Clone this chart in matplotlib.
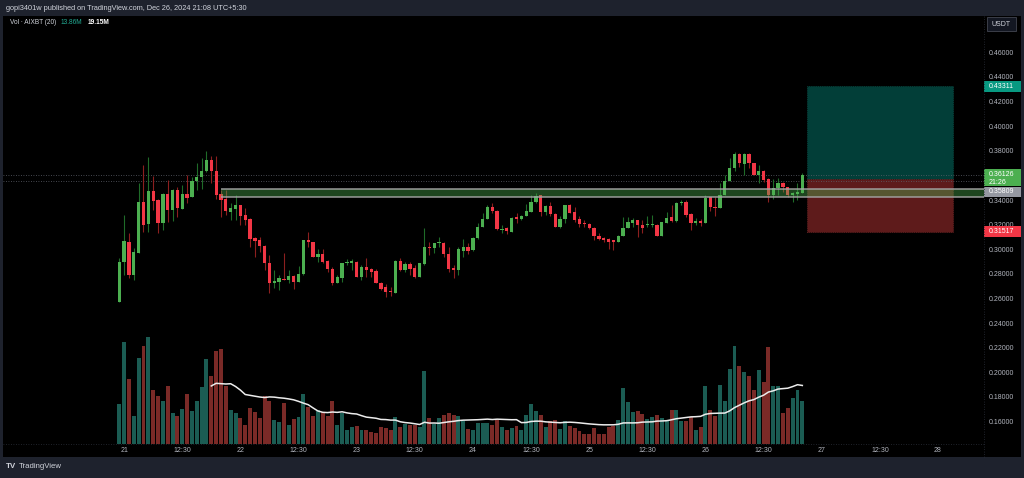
import numpy as np
import pandas as pd
import matplotlib
matplotlib.use('Agg')
import matplotlib.pyplot as plt
from matplotlib.patches import Rectangle
from matplotlib.lines import Line2D
from matplotlib.transforms import blended_transform_factory

plt.rcParams['font.family'] = ['Liberation Sans', 'DejaVu Sans']

# AIXBT / USDT, 1h candles
first_candle = '2024-12-20 23:00'
opens = [0.2583, 0.2908, 0.3070, 0.2799, 0.2981, 0.3395, 0.3214, 0.3482, 0.3409, 0.3219,
         0.3457, 0.3327, 0.3490, 0.3336, 0.3457, 0.3430, 0.3566, 0.3593, 0.3644, 0.3733,
         0.3647, 0.3455, 0.3414, 0.3314, 0.3336, 0.3368, 0.3287, 0.3254, 0.3097, 0.3084,
         0.3038, 0.2894, 0.2737, 0.2745, 0.2770, 0.2759, 0.2791, 0.2745, 0.2805, 0.3084,
         0.3065, 0.2948, 0.2970, 0.2913, 0.2851, 0.2737, 0.2778, 0.2894, 0.2900, 0.2908,
         0.2786, 0.2862, 0.2845, 0.2835, 0.2737, 0.2699, 0.2672, 0.2656, 0.2913, 0.2840,
         0.2889, 0.2853, 0.2786, 0.2889, 0.3029, 0.3016, 0.3062, 0.3062, 0.2970, 0.2859,
         0.2840, 0.2997, 0.3024, 0.3002, 0.3097, 0.3187, 0.3254, 0.3354, 0.3322, 0.3168,
         0.3178, 0.3151, 0.3268, 0.3254, 0.3279, 0.3314, 0.3392, 0.3449, 0.3308, 0.3360,
         0.3292, 0.3192, 0.3251, 0.3368, 0.3314, 0.3251, 0.3219, 0.3211, 0.3178, 0.3116,
         0.3103, 0.3092, 0.3084, 0.3070, 0.3116, 0.3184, 0.3225, 0.3246, 0.3206, 0.3209,
         0.3206, 0.3206, 0.3119, 0.3225, 0.3268, 0.3241, 0.3381, 0.3395, 0.3295, 0.3225,
         0.3238, 0.3219, 0.3430, 0.3354, 0.3346, 0.3449, 0.3566, 0.3666, 0.3782, 0.3701,
         0.3782, 0.3712, 0.3614, 0.3644, 0.3577, 0.3449, 0.3509, 0.3549, 0.3512, 0.3449,
         0.3457, 0.3468]
highs = [0.2935, 0.3287, 0.3138, 0.3016, 0.3544, 0.3693, 0.3761, 0.3606, 0.3414, 0.3463,
         0.3571, 0.3495, 0.3517, 0.3530, 0.3612, 0.3598, 0.3706, 0.3747, 0.3809, 0.3766,
         0.3769, 0.3490, 0.3490, 0.3387, 0.3449, 0.3368, 0.3341, 0.3260, 0.3111, 0.3105,
         0.3043, 0.2962, 0.2840, 0.2799, 0.2975, 0.2840, 0.2799, 0.2872, 0.3084, 0.3151,
         0.3070, 0.3008, 0.3008, 0.2921, 0.2867, 0.2799, 0.2900, 0.2927, 0.2927, 0.2916,
         0.2880, 0.2935, 0.2853, 0.2845, 0.2745, 0.2726, 0.2699, 0.2921, 0.2935, 0.2908,
         0.2908, 0.2880, 0.2900, 0.3178, 0.3070, 0.3062, 0.3105, 0.3070, 0.3029, 0.2880,
         0.3029, 0.3089, 0.3062, 0.3105, 0.3219, 0.3300, 0.3368, 0.3381, 0.3327, 0.3205,
         0.3192, 0.3273, 0.3300, 0.3287, 0.3376, 0.3449, 0.3463, 0.3449, 0.3368, 0.3395,
         0.3300, 0.3279, 0.3368, 0.3376, 0.3349, 0.3279, 0.3246, 0.3219, 0.3192, 0.3138,
         0.3111, 0.3097, 0.3084, 0.3124, 0.3273, 0.3273, 0.3260, 0.3246, 0.3246, 0.3279,
         0.3287, 0.3211, 0.3233, 0.3314, 0.3368, 0.3395, 0.3409, 0.3409, 0.3300, 0.3260,
         0.3251, 0.3449, 0.3436, 0.3436, 0.3544, 0.3612, 0.3747, 0.3801, 0.3793, 0.3793,
         0.3788, 0.3712, 0.3693, 0.3652, 0.3585, 0.3577, 0.3585, 0.3558, 0.3517, 0.3477,
         0.3544, 0.3625]
lows = [0.2583, 0.2799, 0.2772, 0.2759, 0.2975, 0.3151, 0.3151, 0.3327, 0.3138, 0.3165,
        0.3233, 0.3238, 0.3268, 0.3336, 0.3382, 0.3430, 0.3490, 0.3495, 0.3639, 0.3544,
        0.3414, 0.3273, 0.3287, 0.3246, 0.3246, 0.3206, 0.3206, 0.3024, 0.2943, 0.2989,
        0.2840, 0.2656, 0.2691, 0.2678, 0.2759, 0.2732, 0.2683, 0.2745, 0.2799, 0.3030,
        0.2948, 0.2908, 0.2900, 0.2826, 0.2718, 0.2737, 0.2745, 0.2881, 0.2840, 0.2780,
        0.2759, 0.2786, 0.2786, 0.2732, 0.2677, 0.2623, 0.2629, 0.2656, 0.2835, 0.2826,
        0.2799, 0.2772, 0.2786, 0.2880, 0.2962, 0.2981, 0.3029, 0.2943, 0.2826, 0.2772,
        0.2799, 0.2948, 0.2970, 0.2997, 0.3089, 0.3187, 0.3251, 0.3300, 0.3165, 0.3143,
        0.3132, 0.3151, 0.3219, 0.3246, 0.3279, 0.3314, 0.3387, 0.3279, 0.3287, 0.3279,
        0.3192, 0.3178, 0.3219, 0.3300, 0.3233, 0.3192, 0.3192, 0.3170, 0.3084, 0.3084,
        0.3070, 0.3008, 0.3002, 0.3070, 0.3116, 0.3178, 0.3187, 0.3111, 0.3138, 0.3187,
        0.3187, 0.3116, 0.3119, 0.3225, 0.3233, 0.3233, 0.3368, 0.3273, 0.3165, 0.3206,
        0.3198, 0.3219, 0.3322, 0.3279, 0.3346, 0.3449, 0.3566, 0.3647, 0.3679, 0.3612,
        0.3666, 0.3612, 0.3549, 0.3558, 0.3395, 0.3414, 0.3449, 0.3477, 0.3430, 0.3395,
        0.3409, 0.3468]
closes = [0.2908, 0.3076, 0.2799, 0.2983, 0.3395, 0.3206, 0.3482, 0.3403, 0.3219, 0.3457,
          0.3327, 0.3490, 0.3341, 0.3457, 0.3428, 0.3566, 0.3593, 0.3644, 0.3733, 0.3644,
          0.3449, 0.3409, 0.3319, 0.3341, 0.3368, 0.3279, 0.3246, 0.3089, 0.3078, 0.3035,
          0.2894, 0.2737, 0.2751, 0.2772, 0.2759, 0.2791, 0.2745, 0.2807, 0.3084, 0.3065,
          0.2948, 0.2970, 0.2908, 0.2845, 0.2737, 0.2780, 0.2900, 0.2908, 0.2913, 0.2786,
          0.2862, 0.2840, 0.2826, 0.2732, 0.2683, 0.2664, 0.2661, 0.2913, 0.2840, 0.2889,
          0.2845, 0.2786, 0.2894, 0.3029, 0.3016, 0.3062, 0.3067, 0.2970, 0.2845, 0.2840,
          0.3008, 0.3024, 0.2997, 0.3097, 0.3187, 0.3254, 0.3354, 0.3322, 0.3170, 0.3170,
          0.3157, 0.3265, 0.3254, 0.3279, 0.3319, 0.3395, 0.3441, 0.3308, 0.3360, 0.3292,
          0.3192, 0.3251, 0.3368, 0.3306, 0.3246, 0.3211, 0.3211, 0.3178, 0.3116, 0.3089,
          0.3084, 0.3070, 0.3070, 0.3119, 0.3184, 0.3233, 0.3246, 0.3206, 0.3178, 0.3214,
          0.3214, 0.3119, 0.3233, 0.3260, 0.3241, 0.3387, 0.3395, 0.3287, 0.3219, 0.3238,
          0.3219, 0.3422, 0.3349, 0.3346, 0.3449, 0.3566, 0.3666, 0.3782, 0.3706, 0.3782,
          0.3712, 0.3612, 0.3644, 0.3571, 0.3449, 0.3509, 0.3549, 0.3512, 0.3449, 0.3463,
          0.3477, 0.3613]
# volume in millions
volumes = [12.9, 32.9, 20.9, 9.1, 27.7, 31.7, 34.6, 17.4, 15.5, 13.7,
           18.7, 9.9, 9.1, 11.3, 16.1, 10.7, 13.9, 18.5, 27.4, 21.9,
           29.8, 30.6, 18.8, 10.9, 10.0, 8.4, 6.2, 11.6, 10.4, 8.4,
           15.3, 13.9, 7.7, 7.2, 13.3, 6.1, 8.1, 8.6, 16.1, 11.8,
           9.0, 10.9, 10.2, 9.1, 13.7, 6.2, 9.9, 4.6, 5.6, 5.9,
           4.6, 4.5, 4.0, 3.7, 5.6, 5.2, 4.6, 8.8, 5.4, 6.6,
           6.1, 6.1, 5.4, 23.6, 8.4, 6.6, 8.4, 9.4, 9.9, 9.3,
           9.1, 7.3, 4.8, 4.6, 6.8, 6.8, 6.8, 6.2, 7.8, 5.4,
           4.5, 5.2, 5.9, 4.5, 9.3, 12.9, 10.5, 9.4, 5.6, 7.3,
           7.7, 4.8, 7.5, 5.7, 5.0, 4.1, 3.2, 3.2, 5.2, 3.2,
           3.2, 5.4, 5.9, 7.7, 18.0, 13.4, 10.2, 10.5, 9.7, 8.1,
           8.8, 9.4, 8.4, 7.5, 10.9, 10.9, 7.3, 7.5, 8.6, 4.5,
           5.4, 18.8, 10.9, 9.1, 19.0, 13.7, 24.2, 31.7, 25.2, 23.1,
           22.0, 17.4, 23.9, 20.1, 31.3, 18.8, 18.8, 10.1, 11.5, 14.8,
           17.5, 13.86]

vol_ma_text = '19.15M'
last_price = 0.36126
countdown = '21:26'
prev_line = 0.3566
target_price = 0.43311
entry_price = 0.35809
stop_price = 0.31517
zone_low, zone_high = 0.3435, 0.3495
zone_start = '2024-12-21 20:00'
position_start = '2024-12-26 21:00'
position_end = '2024-12-28 03:00'
day_labels = ['21', '22', '23', '24', '25', '26', '27', '28']
price_ticks = [0.16, 0.18, 0.20, 0.22, 0.24, 0.26, 0.28, 0.30, 0.32, 0.34,
               0.36, 0.38, 0.40, 0.42, 0.44, 0.46]

origin = pd.Timestamp('2024-12-21')


def hours(ts):
    return (pd.Timestamp(ts) - origin) / pd.Timedelta(hours=1)


times = pd.date_range(first_candle, periods=len(opens), freq='h')
x = np.array([hours(t) for t in times])
o, h, l, c = map(np.array, (opens, highs, lows, closes))
up = c >= o

W, H = 1024, 478
fs = 5.0
fig = plt.figure(figsize=(W / 100, H / 100), dpi=100, facecolor='#1e222d')
fig.add_artist(Rectangle((3 / W, 1 - 457 / H), 1018 / W, 441 / H, transform=fig.transFigure,
                         facecolor='black', edgecolor='none', zorder=0))

ax = fig.add_axes([3 / W, 1 - 444 / H, 981 / W, 427 / H])
axv = ax.twinx()
ax.set_zorder(axv.get_zorder() + 1)
ax.patch.set_visible(False)
axv.patch.set_visible(False)
for a in (ax, axv):
    for s in a.spines.values():
        s.set_visible(False)
    a.set_xticks([])
    a.set_yticks([])

ax.set_xlim(-25, 177.5)
ax.set_ylim(0.1426, 0.4895)
axv.set_ylim(0, 137.5)
dpp = (0.4895 - 0.1426) / 427  # price per pixel

# volume + MA
vol_colors = np.where(up, '#1b5c53', '#7a2a27')
axv.bar(x, volumes, width=0.82, color=vol_colors, linewidth=0)
ma = pd.Series(volumes).rolling(20).mean()
axv.plot(x, ma, color='#ececec', lw=1.1)

# position boxes
ps, pe = hours(position_start), hours(position_end)
ax.add_patch(Rectangle((ps, entry_price), pe - ps, target_price - entry_price,
                       facecolor='#023e38', edgecolor='#0b5a50', lw=0.5, ls=':', zorder=1))
ax.add_patch(Rectangle((ps, stop_price), pe - ps, entry_price - stop_price,
                       facecolor='#5e1b1b', edgecolor='#7a2a2a', lw=0.5, ls=':', zorder=1))

# dotted price lines
for lvl in (last_price, prev_line):
    ax.axhline(lvl, color='#5d606b', lw=0.6, ls=(0, (1, 2)), zorder=1)

# candles
wick_colors = np.where(up, '#1f6b28', '#8c1f1f')
body_colors = np.where(up, '#4caf50', '#f23645')
ax.vlines(x, l, h, colors=wick_colors, lw=0.8, zorder=3)
body = np.maximum(np.abs(c - o), 0.0008)
ax.bar(x, body, bottom=np.minimum(o, c), width=0.68, color=body_colors, linewidth=0, zorder=4)

# support zone
zs = hours(zone_start)
ax.add_patch(Rectangle((zs, zone_low), 177.5 - zs, zone_high - zone_low,
                       facecolor='#4caf50', alpha=0.4, edgecolor='none', zorder=5))
ax.hlines([zone_low, zone_high], zs, 177.5, colors='#a5a5a5', lw=1.2, alpha=0.85, zorder=5)

# price axis
ty = blended_transform_factory(ax.transAxes, ax.transData)
lx = 1 + 5 / 981
for p in price_ticks:
    if abs(p - last_price) < 0.005:
        continue
    ax.text(lx, p, f'{p:.5f}', transform=ty, fontsize=fs, color='#b2b5be',
            va='center', ha='left', clip_on=False)

bw = 37 / 981


def flag(center, height, color):
    ax.add_patch(Rectangle((1.0, center - height / 2), bw, height, transform=ty,
                           facecolor=color, edgecolor='none', clip_on=False, zorder=10))


flag(target_price, 11 * dpp, '#089981')
ax.text(lx, target_price, f'{target_price:.5f}', transform=ty, fontsize=fs, color='white',
        va='center', ha='left', zorder=11)
flag(last_price - 3 * dpp, 17 * dpp, '#4caf50')
ax.text(lx, last_price, f'{last_price:.5f}', transform=ty, fontsize=fs, color='white',
        va='center', ha='left', zorder=11)
ax.text(lx, last_price - 8 * dpp, countdown, transform=ty, fontsize=fs, color='white',
        va='center', ha='left', zorder=11)
entry_lbl = last_price - 17 * dpp
flag(entry_lbl, 10 * dpp, '#9598a1')
ax.text(lx, entry_lbl, f'{entry_price:.5f}', transform=ty, fontsize=fs, color='white',
        va='center', ha='left', zorder=11)
flag(stop_price, 11 * dpp, '#f23645')
ax.text(lx, stop_price, f'{stop_price:.5f}', transform=ty, fontsize=fs, color='white',
        va='center', ha='left', zorder=11)

# time axis
tx = blended_transform_factory(ax.transData, ax.transAxes)
for lab in day_labels:
    d = hours(f'2024-12-{lab}')
    ax.text(d, -7 / 427, lab, transform=tx, fontsize=fs, color='#b2b5be',
            ha='center', va='center', clip_on=False)
    if lab != day_labels[-1]:
        ax.text(d + 12, -7 / 427, '12:30', transform=tx, fontsize=fs, color='#b2b5be',
                ha='center', va='center', clip_on=False)

# separators
fig.add_artist(Line2D([984 / W] * 2, [1 - 457 / H, 1 - 16 / H], color='#2a2e39',
                      lw=0.6, ls=(0, (1, 2))))
fig.add_artist(Line2D([3 / W, 984 / W], [1 - 444 / H] * 2, color='#2a2e39',
                      lw=0.6, ls=(0, (1, 2))))

# USDT box
fig.add_artist(Rectangle((987 / W, 1 - 31 / H), 29 / W, 14 / H, transform=fig.transFigure,
                         facecolor='#131722', edgecolor='#434651', lw=0.6))
fig.text(1001.5 / W, 1 - 24 / H, 'USDT', fontsize=fs, color='#d1d4dc', ha='center', va='center')

# header, legend, footer
fig.text(6 / W, 1 - 8 / H, 'gopi3401w published on TradingView.com, Dec 26, 2024 21:08 UTC+5:30',
         fontsize=5.3, color='#d1d4dc', va='center')
fig.text(10 / W, 1 - 22 / H, 'Vol · AIXBT (20)', fontsize=4.7, color='#d1d4dc', va='center')
fig.text(61 / W, 1 - 22 / H, f'{volumes[-1]:.2f}M', fontsize=4.7, color='#22ab94', va='center')
fig.text(88 / W, 1 - 22 / H, vol_ma_text, fontsize=4.7, color='white', fontweight='bold', va='center')
fig.text(6 / W, 1 - 467 / H, 'TV', fontsize=5.8, color='#d1d4dc', fontweight='bold', va='center')
fig.text(19 / W, 1 - 467 / H, 'TradingView', fontsize=5.6, color='#d1d4dc', va='center')

fig.savefig('out.png', dpi=100, facecolor=fig.get_facecolor())
